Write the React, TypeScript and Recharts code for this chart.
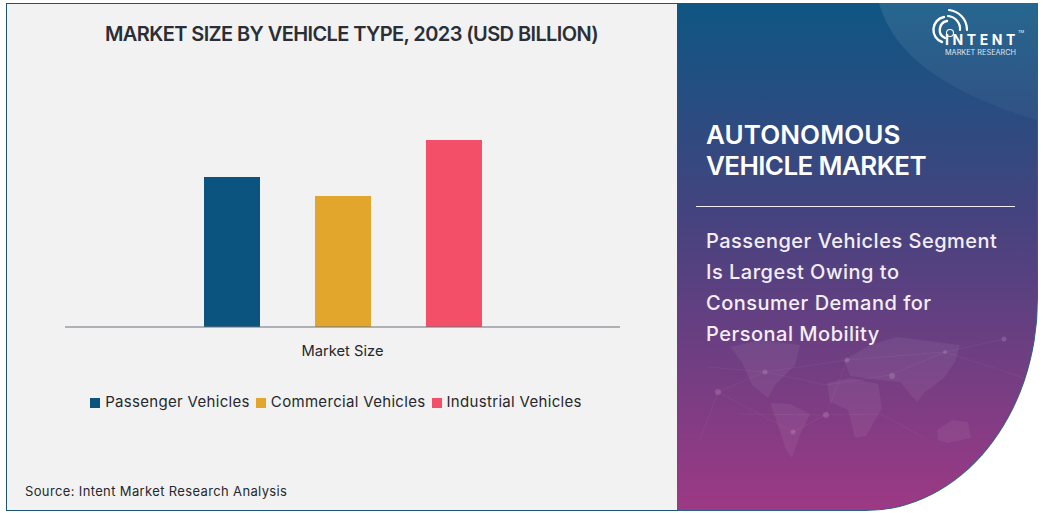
import { BarChart, Bar, XAxis, YAxis, Legend } from 'recharts'

const CATEGORIES = ['Market Size']
const PASSENGER = [15.0]
const COMMERCIAL = [13.1]
const INDUSTRIAL = [18.7]
const SERIES_NAMES = ['Passenger Vehicles', 'Commercial Vehicles', 'Industrial Vehicles']
const COLORS = ['#0b5480', '#e2a62d', '#f44f69']
const HEADLINE = ['Passenger Vehicles Segment', 'Is Largest Owing to', 'Consumer Demand for', 'Personal Mobility']

const data = CATEGORIES.map((name, i) => ({
  name,
  passenger: PASSENGER[i],
  commercial: COMMERCIAL[i],
  industrial: INDUSTRIAL[i],
}))

const FONT = 'Inter, "Noto Sans", sans-serif'
const TEXT = '#2b2e35'

function WorldMap() {
  return (
    <svg width={1043} height={513} style={{ position: 'absolute', left: 0, top: 0, filter: 'blur(0.7px)' }}>
      <g fill="#ffffff" fillOpacity={0.06}>
        <path d="M730 347 L760 340 L800 345 L795 365 L775 385 L768 398 L752 385 L742 362 Z" />
        <path d="M770 403 L790 404 L810 414 L800 435 L792 458 L786 450 L778 425 Z" />
        <path d="M827 383 L850 378 L878 384 L882 408 L866 436 L855 438 L848 410 L830 402 Z" />
        <path d="M844 360 L870 345 L897 337 L960 345 L955 362 L944 378 L925 392 L917 402 L900 382 L880 380 L850 376 Z" />
        <path d="M937 430 L952 420 L968 422 L971 438 L948 443 L938 440 Z" />
      </g>
      <g stroke="#ffffff" strokeOpacity={0.07} strokeWidth={0.7} fill="none">
        <path d="M708 367 L765 372 L826 385 L890 375 L945 352 L1004 339" />
        <path d="M718 392 L793 432 L825 415 L880 414 L925 438" />
        <path d="M739 414 L826 415 L847 360 L945 352 L1030 380" />
        <path d="M700 440 L718 392 L765 372 L847 360" />
      </g>
      <g fill="#ffffff" fillOpacity={0.14}>
        <circle cx={718} cy={392} r={3} />
        <circle cx={765} cy={372} r={2.5} />
        <circle cx={793} cy={432} r={2.5} />
        <circle cx={826} cy={415} r={3} />
        <circle cx={847} cy={360} r={2.5} />
        <circle cx={892} cy={376} r={3} />
        <circle cx={945} cy={352} r={2} />
        <circle cx={1004} cy={339} r={2.5} />
      </g>
    </svg>
  )
}

function Logo() {
  return (
    <>
      <svg width={60} height={48} style={{ position: 'absolute', left: 928, top: 8 }} fill="none" stroke="#ffffff" strokeWidth={2.4} strokeLinecap="round">
        <path d="M14 34 A13 13 0 0 1 16 9" />
        <path d="M17 30 A9 9 0 0 1 19 13" />
        <path d="M21 2 A20 20 0 0 1 39 22" strokeWidth={2.2} />
        <path d="M20 8 A13 13 0 0 1 32 22" strokeWidth={2.2} />
        <circle cx={22} cy={25} r={3.5} strokeWidth={1.1} />
      </svg>
      <div style={{ position: 'absolute', left: 945, top: 32.5, color: '#fff', fontFamily: FONT, fontSize: 14, fontWeight: 700, letterSpacing: 3.6, lineHeight: '13px' }}>INTENT</div>
      <div style={{ position: 'absolute', left: 1018, top: 30, color: '#fff', fontFamily: FONT, fontSize: 4, lineHeight: '4px' }}>TM</div>
      <div style={{ position: 'absolute', left: 945, top: 48.5, color: '#dfe6ee', fontFamily: FONT, fontSize: 7.3, lineHeight: '7px', whiteSpace: 'nowrap' }}>MARKET RESEARCH</div>
    </>
  )
}

export default function App() {
  return (
    <div style={{ position: 'absolute', left: 0, top: 0, width: 1043, height: 513, background: '#ffffff', overflow: 'hidden', fontFamily: FONT }}>
      <style>{'.recharts-legend-item { margin-right: 6px !important; } .recharts-legend-item .recharts-surface { margin-right: 5px !important; }'}</style>
      <div style={{ position: 'absolute', left: 6, top: 3, width: 671, height: 506, background: '#f2f2f2', borderLeft: '1.5px solid #1d5675', borderTop: '1.5px solid #1d5675', borderBottom: '1.5px solid #1d5675', boxSizing: 'content-box' }} />

      <div style={{ position: 'absolute', left: 677, top: 3, width: 361, height: 508, overflow: 'hidden', boxSizing: 'border-box', borderRight: '1px solid #2f5f88', borderBottom: '1px solid #2f5f88', borderBottomRightRadius: '172px 212px', background: 'linear-gradient(180deg, #0e5683 0%, #45437f 42%, #9d3985 100%)' }}>
        <svg width={360} height={508} style={{ position: 'absolute', left: 0, top: 0 }}>
          <defs>
            <linearGradient id="arcFade" x1="0" y1="0" x2="0" y2="1">
              <stop offset="0%" stopColor="#ffffff" stopOpacity={0.1} />
              <stop offset="100%" stopColor="#ffffff" stopOpacity={0.03} />
            </linearGradient>
          </defs>
          <path d="M202 0 C215 45 255 85 360 117 L360 0 Z" fill="url(#arcFade)" />
        </svg>
        <div style={{ position: 'absolute', left: -677, top: -3, width: 1043, height: 513 }}>
          <WorldMap />
        </div>
      </div>

      <Logo />

      <div style={{ position: 'absolute', left: 706, top: 119, color: '#fff', fontSize: 26, fontWeight: 600, lineHeight: '31px', whiteSpace: 'nowrap' }}>
        <div style={{ letterSpacing: 0.1 }}>AUTONOMOUS</div>
        <div style={{ letterSpacing: -0.6 }}>VEHICLE MARKET</div>
      </div>
      <div style={{ position: 'absolute', left: 696, top: 206, width: 319, height: 1, background: '#f2eef5' }} />
      <div style={{ position: 'absolute', left: 706, top: 226, color: '#f3eef6', fontSize: 20, fontWeight: 500, letterSpacing: 0.5, lineHeight: '31px', whiteSpace: 'nowrap' }}>
        {HEADLINE.map(line => <div key={line}>{line}</div>)}
      </div>

      <div style={{ position: 'absolute', left: 105, top: 21, color: TEXT, fontSize: 20, fontWeight: 600, letterSpacing: -0.6, lineHeight: '26px', whiteSpace: 'nowrap' }}>
        MARKET SIZE BY VEHICLE TYPE, 2023 (USD BILLION)
      </div>

      <div style={{ position: 'absolute', left: 0, top: 0 }}>
        <BarChart
          width={677}
          height={513}
          data={data}
          barSize={56}
          barGap={55}
          margin={{ top: 77, right: 57, bottom: 146, left: 65 }}
        >
          <YAxis hide domain={[0, 25]} />
          <XAxis
            dataKey="name"
            height={40}
            stroke="#6b7078"
            tickLine={false}
            tickMargin={13}
            tick={{ fill: '#26282d', fontSize: 14.7, fontFamily: FONT }}
          />
          <Bar dataKey="passenger" name={SERIES_NAMES[0]} fill={COLORS[0]} isAnimationActive={false} />
          <Bar dataKey="commercial" name={SERIES_NAMES[1]} fill={COLORS[1]} isAnimationActive={false} />
          <Bar dataKey="industrial" name={SERIES_NAMES[2]} fill={COLORS[2]} isAnimationActive={false} />
          <Legend
            layout="horizontal"
            align="center"
            verticalAlign="middle"
            iconType="square"
            iconSize={10}
            itemSorter={null}
            wrapperStyle={{ top: 392, left: 0, width: 678, fontSize: 15, letterSpacing: 0.32, lineHeight: '20px' }}
            formatter={(value: string) => <span style={{ color: '#26282d' }}>{value}</span>}
          />
        </BarChart>
      </div>

      <div style={{ position: 'absolute', left: 25, top: 483, color: '#26282d', fontSize: 13, letterSpacing: 0.36, lineHeight: '16px', whiteSpace: 'nowrap' }}>
        Source: Intent Market Research Analysis
      </div>
    </div>
  )
}
